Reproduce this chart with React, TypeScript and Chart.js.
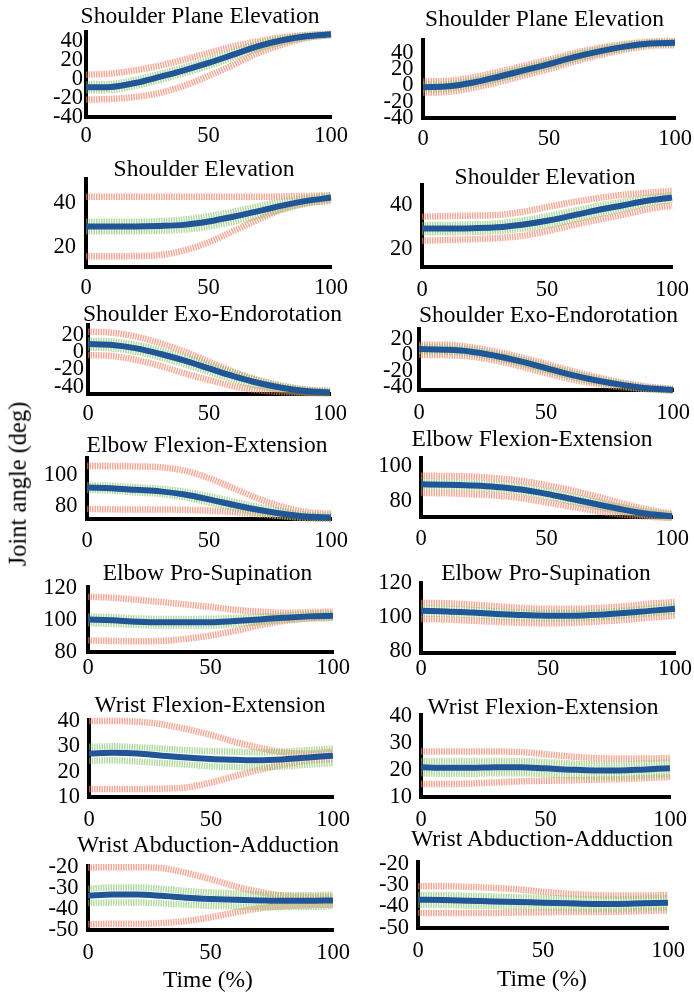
import React, { useEffect, useRef } from "react";
import { Chart, registerables } from "chart.js";

Chart.register(...registerables);

// ---------------- DATA ----------------
const TIME = [0, 10, 20, 30, 40, 50, 60, 70, 80, 90, 100];
const X_TICKS = [0, 50, 100];

const TITLES_LEFT = [
  "Shoulder Plane Elevation",
  "Shoulder Elevation",
  "Shoulder Exo-Endorotation",
  "Elbow Flexion-Extension",
  "Elbow Pro-Supination",
  "Wrist Flexion-Extension",
  "Wrist Abduction-Adduction",
];
const TITLES_RIGHT = TITLES_LEFT;

const Y_TICKS_SPE = [-40, -20, 0, 20, 40];
const Y_TICKS_SE = [20, 40];
const Y_TICKS_SEE = [-40, -20, 0, 20];
const Y_TICKS_EFE = [80, 100];
const Y_TICKS_EPS = [80, 100, 120];
const Y_TICKS_WFE = [10, 20, 30, 40];
const Y_TICKS_WAA = [-50, -40, -30, -20];

const Y_LABEL = "Joint angle (deg)";
const X_LABEL = "Time (%)";

// Left column
const L1_MEAN = [-8.6, -8.2, -4, 2.4, 9.4, 17.2, 26, 34.8, 41.2, 45.4, 47.5];
const L1_PINK_HI = [4.8, 5.9, 9.4, 14.4, 20.7, 27.8, 34.8, 40.1, 44.4, 46.8, 47.9];
const L1_PINK_LO = [-21.6, -20.9, -18.8, -14.6, -7, 3.5, 15, 27.5, 36.6, 43.7, 46.8];
const L1_GREEN_HI = [-5.5, -5, -0.8, 5.6, 12.6, 20.4, 29, 37.5, 43.3, 46.6, 48.2];
const L1_GREEN_LO = [-11.7, -11.4, -7.2, -0.8, 6.2, 14, 23, 32, 39.1, 44.2, 46.8];

const L2_MEAN = [29.4, 29.4, 29.4, 29.6, 30.1, 31.6, 33.7, 36.1, 38.7, 40.8, 42.3];
const L2_PINK_HI = [42.6, 42.6, 42.6, 42.6, 42.6, 42.6, 42.6, 42.6, 42.8, 43, 43.3];
const L2_PINK_LO = [16.1, 16.1, 16.2, 16.6, 18.7, 22.3, 27.3, 32.3, 37, 39.8, 40.8];
const L2_GREEN_HI = [31.5, 31.5, 31.5, 31.8, 32.5, 34, 36, 38.3, 40.5, 42, 43.3];
const L2_GREEN_LO = [27.3, 27.3, 27.3, 27.5, 28, 29.4, 31.5, 34, 37, 39.6, 41.3];

const L3_MEAN = [9.5, 8.4, 4.5, -2.1, -9.8, -18.8, -27.7, -35.4, -41.2, -45.1, -46.7];
const L3_PINK_HI = [23.9, 22.7, 18.1, 10.3, 0.6, -11, -22.6, -32.3, -39.3, -43.2, -44.7];
const L3_PINK_LO = [-3.3, -4.4, -9, -16, -24.6, -32.3, -39.3, -44, -46.3, -47.4, -47.8];
const L3_GREEN_HI = [13.5, 12.4, 8.6, 2, -5.6, -14.6, -23.8, -32, -38.6, -43.5, -45.7];
const L3_GREEN_LO = [5.5, 4.4, 0.4, -6.2, -14, -23, -31.6, -38.8, -43.8, -46.7, -47.7];

const L4_MEAN = [92, 91.6, 90.5, 89.5, 87.4, 84.2, 80.6, 77.3, 74.7, 72.8, 72.2];
const L4_PINK_HI = [106.3, 106.2, 106, 105.5, 103.2, 98.3, 91.6, 84.8, 79.4, 75.8, 74.7];
const L4_PINK_LO = [77.9, 77.6, 77.5, 77.5, 77.3, 76.8, 75.8, 74.3, 73, 72.2, 71.6];
const L4_GREEN_HI = [93.5, 93.2, 92.2, 91.2, 89.3, 86.3, 82.8, 79.3, 76.3, 74, 73.2];
const L4_GREEN_LO = [90.5, 90, 88.8, 87.8, 85.5, 82.1, 78.4, 75.3, 73.1, 71.6, 71.2];

const L5_MEAN = [100.4, 99.8, 99, 98.6, 98.6, 98.6, 99.4, 100.4, 101.4, 102.3, 102.7];
const L5_PINK_HI = [114.6, 114, 112.7, 111.3, 109.7, 108.2, 106.4, 105.3, 104.5, 104.9, 105.3];
const L5_PINK_LO = [87.3, 86.9, 86.7, 86.9, 88.3, 90.3, 93.2, 96.7, 99.4, 101, 101.4];
const L5_GREEN_HI = [102.3, 101.8, 101, 100.7, 100.7, 100.8, 101.4, 102.2, 103, 103.8, 104.2];
const L5_GREEN_LO = [98, 97.6, 97, 96.6, 96.6, 96.6, 97.5, 98.7, 100, 100.9, 101.3];

const L6_MEAN = [27.2, 27.5, 27.2, 26.3, 25.6, 25, 24.7, 24.5, 24.9, 25.6, 26.3];
const L6_PINK_HI = [40, 40, 39.7, 38.7, 36.8, 34.5, 31.7, 29.4, 27.6, 27.1, 27.9];
const L6_PINK_LO = [13.2, 13.2, 13.2, 13.3, 13.8, 15.7, 18.3, 20.8, 22.8, 24.3, 25];
const L6_GREEN_HI = [29.8, 30, 29.6, 29.1, 28.5, 28.1, 27.9, 27.6, 27.9, 28.5, 29.1];
const L6_GREEN_LO = [24.3, 24.5, 24, 23.4, 22.8, 22.1, 21.9, 21.7, 22.1, 22.8, 23.4];

const L7_MEAN = [-33.6, -33, -33, -33.6, -34.5, -35.1, -35.5, -35.8, -36, -36, -35.8];
const L7_PINK_HI = [-20, -19.9, -19.9, -20.3, -22.6, -25.6, -29, -31.7, -33.6, -34, -34];
const L7_PINK_LO = [-47.3, -47, -47, -46.7, -45.7, -43.9, -41.6, -39.6, -38.6, -38.1, -37.8];
const L7_GREEN_HI = [-30.2, -29.6, -29.6, -30.2, -31.3, -32, -32.5, -33, -33.3, -33.3, -33];
const L7_GREEN_LO = [-37.1, -36.8, -36.8, -37.2, -37.8, -38.4, -38.7, -39, -39, -38.9, -38.6];

// Right column
const R1_MEAN = [-2.3, -1.2, 3.5, 10.5, 18.3, 26, 34.6, 41.6, 47.4, 51.3, 52];
const R1_PINK_HI = [4.7, 5.5, 10, 16.5, 24, 31.5, 39.5, 46, 50.5, 53.5, 54.4];
const R1_PINK_LO = [-9, -8, -3, 4, 12, 20, 29, 37, 43.5, 48.3, 49.3];
const R1_GREEN_HI = [0.5, 1.5, 6.2, 13.2, 21, 28.7, 37.2, 44, 49.3, 52.5, 53.2];
const R1_GREEN_LO = [-5, -4, 0.8, 7.8, 15.6, 23.3, 32, 39.2, 45.5, 50, 50.8];

const R2_MEAN = [29.3, 29.3, 29.5, 29.9, 31.1, 32.9, 35.3, 37.8, 40, 42.2, 43.7];
const R2_PINK_HI = [34.8, 35.1, 35.3, 35.6, 37, 39.3, 41.5, 43.4, 44.9, 45.9, 46.7];
const R2_PINK_LO = [23.7, 24, 24.4, 24.9, 25.9, 28.1, 30.8, 33.3, 35.6, 38.2, 40];
const R2_GREEN_HI = [31, 31, 31.2, 31.7, 33, 35, 37.3, 39.7, 41.7, 43.5, 44.8];
const R2_GREEN_LO = [27.6, 27.6, 27.8, 28.1, 29.2, 30.8, 33.3, 35.9, 38.3, 40.9, 42.6];

const R3_MEAN = [7.6, 6.8, 4.7, -0.7, -7.7, -16, -24.3, -31.3, -36.7, -40.8, -42.9];
const R3_PINK_HI = [13, 13, 10, 4.7, -2.4, -10.6, -19.3, -27.2, -33.8, -38.8, -41.7];
const R3_PINK_LO = [0.5, 0.1, -1.5, -6.5, -13.9, -22.2, -29.7, -35.4, -39.6, -42, -43.7];
const R3_GREEN_HI = [10, 9.3, 7.2, 1.8, -5.2, -13.5, -22, -29.3, -35.2, -39.8, -42.3];
const R3_GREEN_LO = [5.2, 4.4, 2.2, -3.2, -10.2, -18.5, -26.6, -33.3, -38.2, -41.8, -43.4];

const R4_MEAN = [89.5, 89.3, 88.8, 88, 86.5, 84, 81, 78, 75, 72.5, 71];
const R4_PINK_HI = [94.5, 94.3, 94, 93, 91.5, 89, 86, 82.5, 78.5, 75, 72.5];
const R4_PINK_LO = [84.5, 84.3, 83.8, 83, 81.5, 79, 76.5, 74, 72, 70.8, 70];
const R4_GREEN_HI = [91, 90.8, 90.3, 89.5, 88, 85.5, 82.5, 79.5, 76.3, 73.6, 72];
const R4_GREEN_LO = [88, 87.8, 87.3, 86.5, 85, 82.5, 79.5, 76.5, 73.8, 71.5, 70.2];

const R5_MEAN = [103.8, 103.5, 102.8, 102, 101.3, 101, 101, 101.5, 102.5, 103.8, 105];
const R5_PINK_HI = [108.5, 108.3, 107.5, 106.5, 105.5, 105, 105, 105.5, 106.5, 108, 109];
const R5_PINK_LO = [99, 98.7, 98, 97.3, 96.8, 96.5, 96.8, 97.5, 98.5, 99.8, 101];
const R5_GREEN_HI = [105.3, 105, 104.3, 103.5, 102.8, 102.5, 102.5, 103, 104, 105.3, 106.5];
const R5_GREEN_LO = [102.3, 102, 101.3, 100.5, 99.8, 99.5, 99.5, 100, 101, 102.3, 103.5];

const R6_MEAN = [21, 20.8, 20.8, 21, 21, 20.6, 20.1, 19.8, 19.8, 20.2, 20.6];
const R6_PINK_HI = [26.8, 26.8, 26.8, 26.8, 26.6, 25.8, 25, 24.4, 24.2, 24.2, 24.4];
const R6_PINK_LO = [14.8, 14.8, 15, 15.4, 15.8, 16, 16.2, 16.4, 16.6, 17, 17.4];
const R6_GREEN_HI = [23.3, 23.2, 23.2, 23.3, 23.3, 22.9, 22.4, 22.1, 22, 22.4, 22.8];
const R6_GREEN_LO = [18.8, 18.6, 18.6, 18.8, 18.8, 18.4, 17.9, 17.6, 17.6, 18, 18.4];

const R7_MEAN = [-36.8, -37, -37.3, -37.6, -37.9, -38.2, -38.5, -38.8, -38.8, -38.5, -38.2];
const R7_PINK_HI = [-30.5, -30.5, -30.8, -31.3, -32, -33.1, -34, -34.6, -34.9, -34.9, -34.6];
const R7_PINK_LO = [-43, -43, -43, -43, -42.8, -42.7, -42.5, -42.5, -42.4, -42.1, -41.8];
const R7_GREEN_HI = [-34.6, -34.7, -35, -35.3, -35.7, -36, -36.3, -36.6, -36.6, -36.3, -36];
const R7_GREEN_LO = [-39.1, -39.2, -39.5, -39.8, -40.1, -40.4, -40.7, -41, -41, -40.7, -40.4];

// ---------------- STYLE / LAYOUT ----------------
const FONT_FAMILY = '"Liberation Serif", "Times New Roman", serif';
const TICK_SIZE = 22.5;
const TITLE_SIZE = 23.5;
const YLABEL_SIZE = 24.5;
const BLUE = "rgb(32, 86, 152)";
const PINK = "rgba(240, 130, 105, 0.68)";
const GREEN = "rgba(130, 195, 100, 0.6)";
const Y_W = 80;
const PAD_T = 20;
const PAD_R = 30;
const X_H = 45;

type Panel = {
  title: string;
  mean: number[]; pinkHi: number[]; pinkLo: number[]; greenHi: number[]; greenLo: number[];
  yTicks: number[]; yMin: number; yMax: number;
  left: number; right: number; top: number; bottom: number;
  yPad: number; xPad: number; tx: number; tb: number;
};

const PANELS: Panel[] = [
  { title: TITLES_LEFT[0], mean: L1_MEAN, pinkHi: L1_PINK_HI, pinkLo: L1_PINK_LO, greenHi: L1_GREEN_HI, greenLo: L1_GREEN_LO,
    yTicks: Y_TICKS_SPE, yMin: -40, yMax: 50, left: 86, right: 331, top: 32, bottom: 117, yPad: 3, xPad: 6, tx: 200, tb: 24 },
  { title: TITLES_LEFT[1], mean: L2_MEAN, pinkHi: L2_PINK_HI, pinkLo: L2_PINK_LO, greenHi: L2_GREEN_HI, greenLo: L2_GREEN_LO,
    yTicks: Y_TICKS_SE, yMin: 11.3, yMax: 50.8, left: 86, right: 331, top: 175, bottom: 267, yPad: 10, xPad: 8, tx: 204, tb: 177 },
  { title: TITLES_LEFT[2], mean: L3_MEAN, pinkHi: L3_PINK_HI, pinkLo: L3_PINK_LO, greenHi: L3_GREEN_HI, greenLo: L3_GREEN_LO,
    yTicks: Y_TICKS_SEE, yMin: -48.5, yMax: 31.6, left: 88, right: 330, top: 325, bottom: 394, yPad: 4, xPad: 6.5, tx: 212.5, tb: 322 },
  { title: TITLES_LEFT[3], mean: L4_MEAN, pinkHi: L4_PINK_HI, pinkLo: L4_PINK_LO, greenHi: L4_GREEN_HI, greenLo: L4_GREEN_LO,
    yTicks: Y_TICKS_EFE, yMin: 71.2, yMax: 111.6, left: 87, right: 331, top: 455, bottom: 519, yPad: 9.5, xPad: 9, tx: 207, tb: 453 },
  { title: TITLES_LEFT[4], mean: L5_MEAN, pinkHi: L5_PINK_HI, pinkLo: L5_PINK_LO, greenHi: L5_GREEN_HI, greenLo: L5_GREEN_LO,
    yTicks: Y_TICKS_EPS, yMin: 80, yMax: 121, left: 88, right: 333, top: 582, bottom: 652, yPad: 11, xPad: 3, tx: 207.5, tb: 581 },
  { title: TITLES_LEFT[5], mean: L6_MEAN, pinkHi: L6_PINK_HI, pinkLo: L6_PINK_LO, greenHi: L6_GREEN_HI, greenLo: L6_GREEN_LO,
    yTicks: Y_TICKS_WFE, yMin: 10, yMax: 40.6, left: 89, right: 333, top: 717, bottom: 797, yPad: 9, xPad: 10, tx: 210, tb: 713 },
  { title: TITLES_LEFT[6], mean: L7_MEAN, pinkHi: L7_PINK_HI, pinkLo: L7_PINK_LO, greenHi: L7_GREEN_HI, greenLo: L7_GREEN_LO,
    yTicks: Y_TICKS_WAA, yMin: -50, yMax: -19.3, left: 88, right: 333, top: 863, bottom: 930, yPad: 9.5, xPad: 10, tx: 208, tb: 853 },

  { title: TITLES_RIGHT[0], mean: R1_MEAN, pinkHi: R1_PINK_HI, pinkLo: R1_PINK_LO, greenHi: R1_GREEN_HI, greenLo: R1_GREEN_LO,
    yTicks: Y_TICKS_SPE, yMin: -40, yMax: 55.5, left: 423, right: 675, top: 37, bottom: 118, yPad: 9.5, xPad: 7.5, tx: 544.5, tb: 27 },
  { title: TITLES_RIGHT[1], mean: R2_MEAN, pinkHi: R2_PINK_HI, pinkLo: R2_PINK_LO, greenHi: R2_GREEN_HI, greenLo: R2_GREEN_LO,
    yTicks: Y_TICKS_SE, yMin: 11.5, yMax: 49.5, left: 422, right: 672, top: 182, bottom: 267, yPad: 9.5, xPad: 9.5, tx: 545, tb: 185 },
  { title: TITLES_RIGHT[2], mean: R3_MEAN, pinkHi: R3_PINK_HI, pinkLo: R3_PINK_LO, greenHi: R3_GREEN_HI, greenLo: R3_GREEN_LO,
    yTicks: Y_TICKS_SEE, yMin: -43, yMax: 32.4, left: 419, right: 673, top: 329, bottom: 390, yPad: 6, xPad: 10, tx: 548.5, tb: 323 },
  { title: TITLES_RIGHT[3], mean: R4_MEAN, pinkHi: R4_PINK_HI, pinkLo: R4_PINK_LO, greenHi: R4_GREEN_HI, greenLo: R4_GREEN_LO,
    yTicks: Y_TICKS_EFE, yMin: 70.6, yMax: 105, left: 421, right: 672, top: 455, bottom: 517, yPad: 9, xPad: 9, tx: 532, tb: 447 },
  { title: TITLES_RIGHT[4], mean: R5_MEAN, pinkHi: R5_PINK_HI, pinkLo: R5_PINK_LO, greenHi: R5_GREEN_HI, greenLo: R5_GREEN_LO,
    yTicks: Y_TICKS_EPS, yMin: 79, yMax: 120.5, left: 421, right: 675, top: 580, bottom: 653, yPad: 9, xPad: 3, tx: 546, tb: 581 },
  { title: TITLES_RIGHT[5], mean: R6_MEAN, pinkHi: R6_PINK_HI, pinkLo: R6_PINK_LO, greenHi: R6_GREEN_HI, greenLo: R6_GREEN_LO,
    yTicks: Y_TICKS_WFE, yMin: 10, yMax: 40.5, left: 421, right: 670, top: 712, bottom: 797, yPad: 9, xPad: 9.5, tx: 543, tb: 715 },
  { title: TITLES_RIGHT[6], mean: R7_MEAN, pinkHi: R7_PINK_HI, pinkLo: R7_PINK_LO, greenHi: R7_GREEN_HI, greenLo: R7_GREEN_LO,
    yTicks: Y_TICKS_WAA, yMin: -50, yMax: -19, left: 418, right: 668, top: 859, bottom: 928, yPad: 9, xPad: 10, tx: 542, tb: 847 },
];

const pts = (ys: number[]) => TIME.map((t, i) => ({ x: t, y: ys[i] }));

function PanelChart({ p }: { p: Panel }) {
  const ref = useRef<HTMLCanvasElement | null>(null);
  const W = p.right - p.left + Y_W + PAD_R;
  const H = p.bottom - p.top + PAD_T + X_H;

  useEffect(() => {
    if (!ref.current) return;
    const band = (data: number[], color: string) => ({
      data: pts(data),
      borderColor: color,
      borderWidth: 6.5,
      borderDash: [1.5, 1],
      pointRadius: 0,
      fill: false,
      clip: false as any,
    });
    const tickFont = { family: FONT_FAMILY, size: TICK_SIZE };
    const chart = new Chart(ref.current, {
      type: "line",
      data: {
        datasets: [
          { data: pts(p.mean), borderColor: BLUE, borderWidth: 6, pointRadius: 0, fill: false, clip: false as any },
          band(p.greenHi, GREEN),
          band(p.greenLo, GREEN),
          band(p.pinkHi, PINK),
          band(p.pinkLo, PINK),
        ],
      },
      options: {
        animation: false,
        responsive: false,
        events: [],
        layout: { padding: { left: 0, top: PAD_T, right: PAD_R, bottom: 0 } },
        plugins: { legend: { display: false }, tooltip: { enabled: false }, title: { display: false } },
        elements: { line: { cubicInterpolationMode: "monotone", borderCapStyle: "butt" }, point: { radius: 0 } },
        scales: {
          x: {
            type: "linear",
            min: 0,
            max: 100,
            afterBuildTicks: (s: any) => { s.ticks = X_TICKS.map((v) => ({ value: v })); },
            afterFit: (s: any) => { s.height = X_H; },
            grid: { display: false, drawTicks: false },
            border: { display: true, color: "#000", width: 4 },
            ticks: { padding: p.xPad, autoSkip: false, maxRotation: 0, font: tickFont, color: "#000", callback: (v: any) => String(v) },
          },
          y: {
            type: "linear",
            min: p.yMin,
            max: p.yMax,
            afterBuildTicks: (s: any) => { s.ticks = p.yTicks.map((v) => ({ value: v })); },
            afterFit: (s: any) => { s.width = Y_W; },
            grid: { display: false, drawTicks: false },
            border: { display: true, color: "#000", width: 4 },
            ticks: { padding: p.yPad, autoSkip: false, font: tickFont, color: "#000", callback: (v: any) => String(v) },
          },
        },
      } as any,
    });
    return () => chart.destroy();
  }, []);

  return (
    <canvas
      ref={ref}
      width={W}
      height={H}
      style={{ position: "absolute", left: p.left - Y_W, top: p.top - PAD_T, width: W, height: H, display: "block" }}
    />
  );
}

const textBase: React.CSSProperties = {
  position: "absolute",
  fontFamily: FONT_FAMILY,
  fontSize: TITLE_SIZE,
  lineHeight: 1,
  whiteSpace: "nowrap",
  color: "#000",
};
const BASE_OFF = 0.8375 * TITLE_SIZE;

export default function App() {
  return (
    <div style={{ position: "absolute", left: 0, top: 0, width: 694, height: 998, background: "#fff", overflow: "hidden" }}>
      {PANELS.map((p, i) => (
        <PanelChart key={"c" + i} p={p} />
      ))}
      {PANELS.map((p, i) => (
        <div key={"t" + i} style={{ ...textBase, left: p.tx, top: p.tb - BASE_OFF, transform: "translateX(-50%)" }}>
          {p.title}
        </div>
      ))}
      <div style={{ ...textBase, fontSize: YLABEL_SIZE, left: 18, top: 484, transform: "translate(-50%, -50%) rotate(-90deg)" }}>{Y_LABEL}</div>
      <div style={{ ...textBase, left: 208, top: 988 - BASE_OFF, transform: "translateX(-50%)" }}>{X_LABEL}</div>
      <div style={{ ...textBase, left: 542, top: 987 - BASE_OFF, transform: "translateX(-50%)" }}>{X_LABEL}</div>
    </div>
  );
}
